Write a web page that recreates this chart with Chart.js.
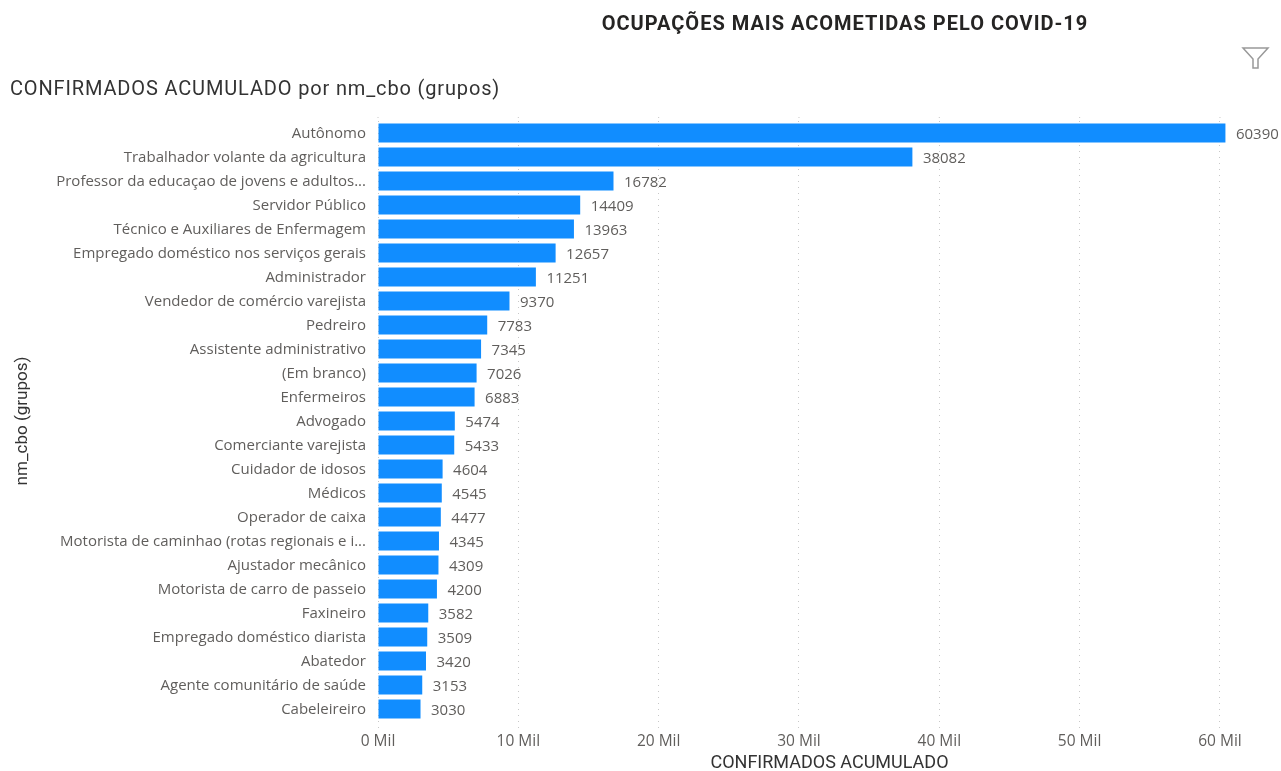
<!DOCTYPE html>
<html lang="pt">

<head>
    <meta charset="UTF-8">
    <title>Ocupações mais acometidas pelo COVID-19</title>
    <script src="https://cdn.jsdelivr.net/npm/chart.js"></script>
    <style>
        body { margin: 0; background: #fff; overflow: hidden; }
        #wrap { position: relative; width: 1281px; height: 771px; }
        canvas { position: absolute; left: 0; top: 0; }
        #title { position: absolute; left: 445px; width: 800px; top: 11px; text-align: center;
            font: 700 20px Roboto, sans-serif; color: #252423; letter-spacing: 1px; }
        #subtitle { position: absolute; left: 10px; top: 76px;
            font: 400 20px Roboto, sans-serif; color: #333; letter-spacing: 0.85px; }
        #filter { position: absolute; left: 1241px; top: 46px; }
    </style>
</head>

<body>
    <div id="wrap">
        <canvas id="chart" width="1281" height="771"></canvas>
        <div id="title">OCUPAÇÕES MAIS ACOMETIDAS PELO COVID-19</div>
        <div id="subtitle">CONFIRMADOS ACUMULADO por nm_cbo (grupos)</div>
        <svg id="filter" width="30" height="24" viewBox="0 0 30 24">
            <path d="M2 2 H27 L17 13 V22 H12 V13 Z" fill="none" stroke="#999" stroke-width="1.5" />
        </svg>
    </div>

    <script>
        var categories = [
            'Autônomo', 'Trabalhador volante da agricultura', 'Professor da educaçao de jovens e adultos...',
            'Servidor Público', 'Técnico e Auxiliares de Enfermagem', 'Empregado doméstico nos serviços gerais',
            'Administrador', 'Vendedor de comércio varejista', 'Pedreiro', 'Assistente administrativo',
            '(Em branco)', 'Enfermeiros', 'Advogado', 'Comerciante varejista', 'Cuidador de idosos', 'Médicos',
            'Operador de caixa', 'Motorista de caminhao (rotas regionais e i...', 'Ajustador mecânico',
            'Motorista de carro de passeio', 'Faxineiro', 'Empregado doméstico diarista', 'Abatedor',
            'Agente comunitário de saúde', 'Cabeleireiro'
        ];
        var confirmados = [
            60390, 38082, 16782, 14409, 13963, 12657, 11251, 9370, 7783, 7345, 7026, 6883, 5474,
            5433, 4604, 4545, 4477, 4345, 4309, 4200, 3582, 3509, 3420, 3153, 3030
        ];
        var tickValues = [0, 10000, 20000, 30000, 40000, 50000, 60000];
        var textColor = '#605e5c';
        var gridColor = '#c8c8c8';

        // value at the end of each bar + little stubs of the grid above the plot
        var extras = {
            id: 'extras',
            afterDatasetsDraw: function (chart) {
                var ctx = chart.ctx;
                var bars = chart.getDatasetMeta(0).data;
                ctx.save();
                ctx.font = '15px "Open Sans", sans-serif';
                ctx.fillStyle = textColor;
                ctx.textBaseline = 'middle';
                bars.forEach(function (bar, i) {
                    ctx.fillText(String(confirmados[i]), bar.x + 10.5, bar.y + 1.5);
                });
                ctx.strokeStyle = gridColor;
                ctx.setLineDash([1, 5]);
                chart.scales.x.ticks.forEach(function (t) {
                    var x = chart.scales.x.getPixelForValue(t.value);
                    ctx.beginPath();
                    ctx.moveTo(x, chart.chartArea.top - 4);
                    ctx.lineTo(x, chart.chartArea.top);
                    ctx.stroke();
                });
                ctx.restore();
            }
        };

        new Chart(document.getElementById('chart'), {
            type: 'bar',
            data: {
                labels: categories,
                datasets: [{
                    label: 'CONFIRMADOS ACUMULADO',
                    data: confirmados,
                    backgroundColor: '#118dff',
                    barPercentage: 0.8,
                    categoryPercentage: 1
                }]
            },
            plugins: [extras],
            options: {
                indexAxis: 'y',
                responsive: false,
                animation: false,
                layout: { padding: { left: 10, right: 0, top: 121, bottom: 0 } },
                plugins: { legend: { display: false }, title: { display: false }, tooltip: { enabled: false } },
                scales: {
                    x: {
                        min: 0,
                        max: 64350,
                        afterFit: function (scale) { scale.height = 50; },
                        afterBuildTicks: function (scale) {
                            scale.ticks = tickValues.map(function (v) { return { value: v }; });
                        },
                        border: { display: false, dash: [1, 5] },
                        grid: {
                            color: gridColor,
                            tickColor: gridColor,
                            tickBorderDash: [1, 5],
                            tickLength: 7
                        },
                        ticks: {
                            autoSkip: false,
                            maxRotation: 0,
                            padding: 4,
                            color: textColor,
                            font: { family: '"Open Sans", sans-serif', size: 15.5 },
                            callback: function (v) { return (v / 1000) + ' Mil'; }
                        },
                        title: {
                            display: true,
                            text: 'CONFIRMADOS ACUMULADO',
                            color: '#333',
                            padding: { top: 0, bottom: -1 },
                            font: { family: 'Roboto, sans-serif', size: 18, lineHeight: 1 }
                        }
                    },
                    y: {
                        afterFit: function (scale) { scale.width = 368; },
                        border: { display: false },
                        grid: { display: false, drawTicks: false },
                        ticks: {
                            autoSkip: false,
                            padding: 12,
                            labelOffset: 1,
                            color: textColor,
                            font: { family: '"Open Sans", sans-serif', size: 15 }
                        },
                        title: {
                            display: true,
                            text: 'nm_cbo (grupos)',
                            color: '#333',
                            padding: { top: 3, bottom: 0 },
                            font: { family: 'Roboto, sans-serif', size: 17 }
                        }
                    }
                }
            }
        });
    </script>
</body>

</html>
